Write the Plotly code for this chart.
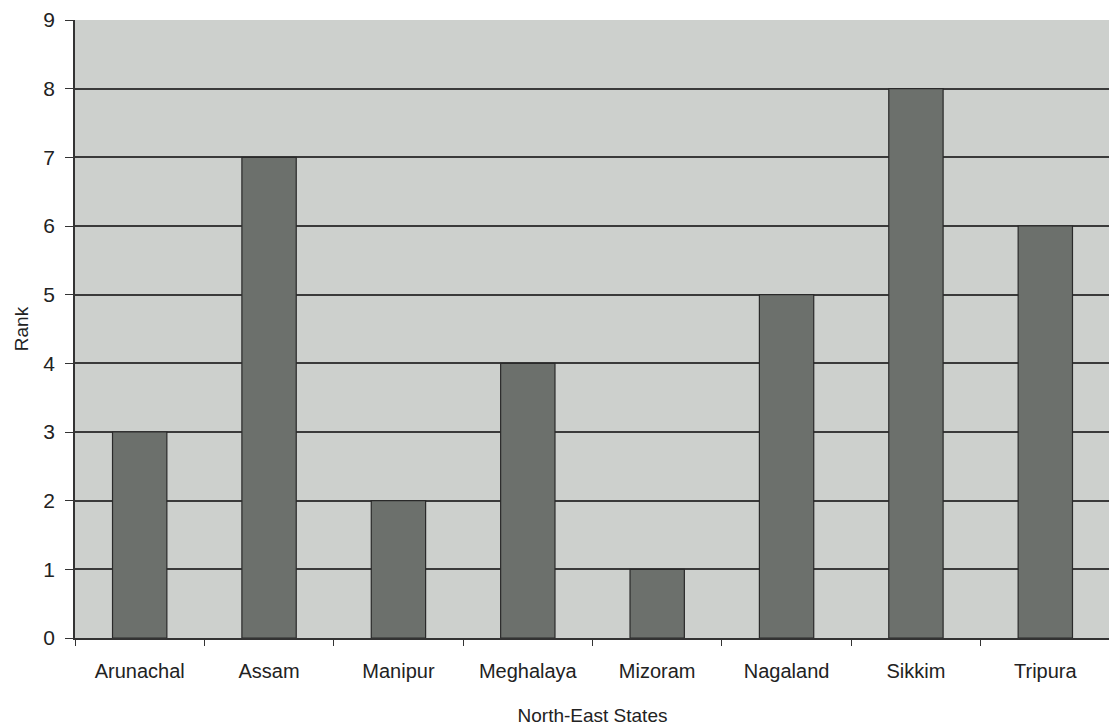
import plotly.graph_objects as go

states = ["Arunachal", "Assam", "Manipur", "Meghalaya", "Mizoram", "Nagaland", "Sikkim", "Tripura"]
rank = [3, 7, 2, 4, 1, 5, 8, 6]
y_ticks = [0, 1, 2, 3, 4, 5, 6, 7, 8, 9]

fig = go.Figure()
fig.add_trace(go.Bar(
    x=states, y=rank,
    marker=dict(color="#6c706c", line=dict(color="#2a2a2a", width=1.2)),
    width=0.42,
))

fig.update_layout(
    width=1117, height=728,
    margin=dict(l=67, r=15, t=12, b=98, autoexpand=False),
    paper_bgcolor="white",
    plot_bgcolor="#cdd0cd",
    font=dict(family="Liberation Sans, Arial, sans-serif", size=20, color="#222"),
    showlegend=False,
    bargap=0.58,
)
fig.update_xaxes(
    title=dict(text="North-East States", font=dict(size=19), standoff=28),
    showline=True, linecolor="#333", linewidth=1.5, mirror=False,
    ticks="outside", tickcolor="#333", ticklen=6,
    tickson="boundaries", showgrid=False,
    tickfont=dict(size=20), ticklabelstandoff=14,
)
fig.update_yaxes(
    title=dict(text="Rank", font=dict(size=19), standoff=10),
    range=[0, 9], tickvals=y_ticks, ticktext=[str(v) for v in y_ticks],
    showline=True, linecolor="#333", linewidth=1.5,
    ticks="outside", tickcolor="#333", ticklen=8,
    showgrid=True, gridcolor="#3a3a3a", gridwidth=1.5,
    zeroline=False, tickfont=dict(size=21), ticklabelstandoff=6,
)

fig.write_html("out.html")
